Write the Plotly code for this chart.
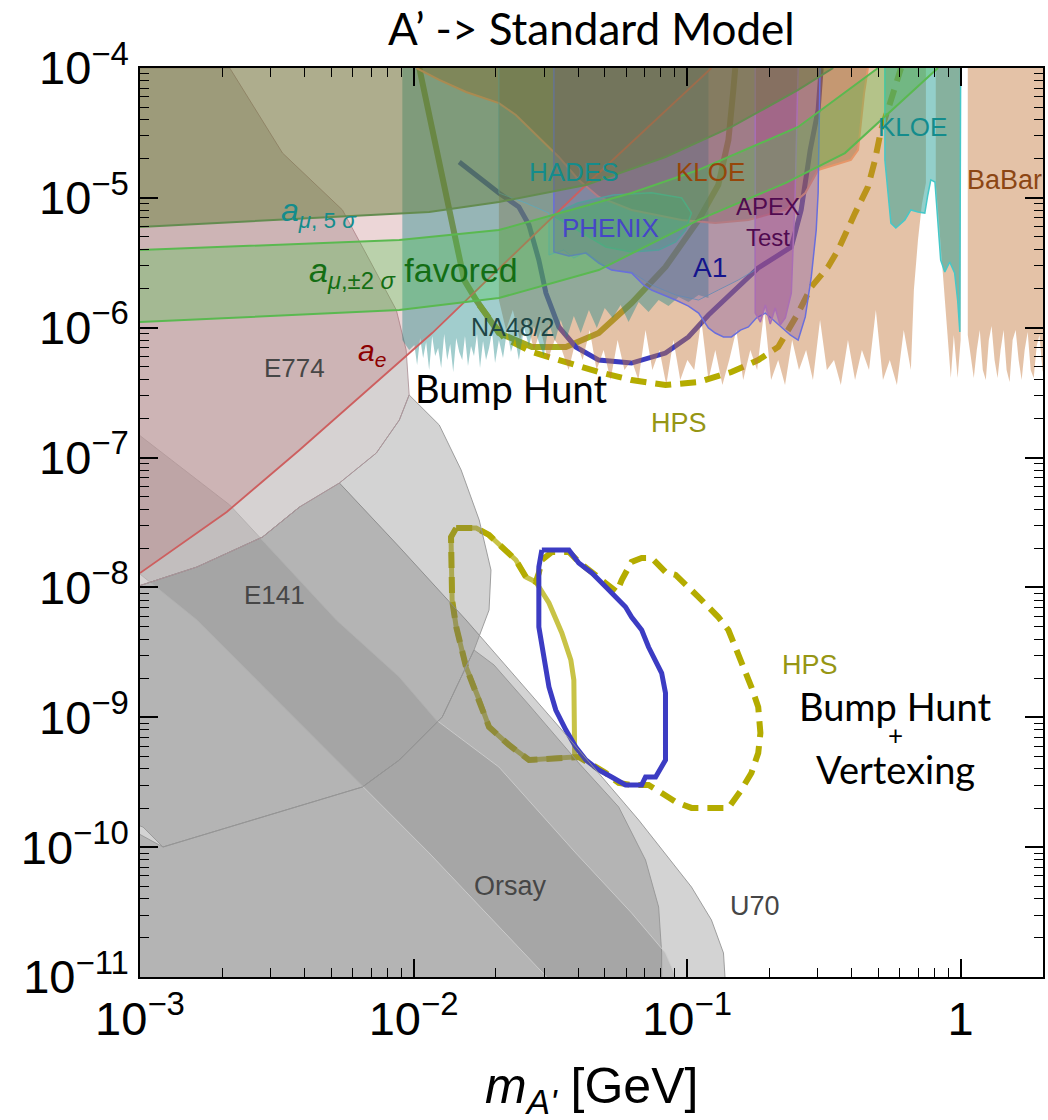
import numpy as np
import plotly.graph_objects as go

# ---------------- data: (log10 m[GeV], log10 epsilon) ----------------
E774 = [(-3.05,-4.000),(-2.672,-4.000),(-2.479,-4.655),(-2.260,-5.093),(-2.161,-5.479),(-2.063,-5.864),
        (-2.027,-6.172),(-2.016,-6.518),(-2.052,-6.711),(-2.136,-6.965),(-2.271,-7.196),(-2.417,-7.381),
        (-2.552,-7.612),(-2.792,-7.843),(-3.05,-8.020)]
E137 = [(-3.05,-8.020),(-2.792,-7.843),(-2.552,-7.612),(-2.417,-7.381),(-2.271,-7.196),(-2.136,-6.965),
        (-2.052,-6.711),(-2.016,-6.518),(-1.906,-6.749),(-1.826,-7.096),(-1.760,-7.481),(-1.717,-7.866),
        (-1.724,-8.174),(-1.779,-8.482),(-1.895,-8.998),(-2.052,-9.329),(-2.187,-9.537),(-2.552,-9.768),
        (-2.916,-9.999),(-2.989,-9.845),(-3.05,-9.80)]
U70 = [(-2.271,-7.196),(-2.052,-7.689),(-1.808,-8.251),(-1.458,-9.098),(-1.177,-9.791),(-0.984,-10.307),
       (-0.911,-10.561),(-0.867,-10.815),(-0.860,-11.05),(-3.05,-11.05),(-3.05,-8.020),(-2.792,-7.843),
       (-2.552,-7.612),(-2.417,-7.381)]
E141 = [(-3.05,-9.845),(-2.916,-9.999),(-2.552,-9.768),(-2.187,-9.537),(-2.052,-9.329),(-1.895,-8.998),
        (-1.779,-8.482),(-1.706,-8.597),(-1.578,-8.905),(-1.483,-9.136),(-1.396,-9.352),(-1.250,-9.691),
        (-1.152,-10.099),(-1.104,-10.461),(-1.093,-10.815),(-1.093,-11.05),(-3.05,-11.05)]
ORSAY = [(-3.05,-6.750),(-2.672,-7.365),(-2.282,-8.251),(-2.052,-8.690),(-1.917,-9.021),(-1.688,-9.383),
         (-1.407,-10.045),(-1.203,-10.507),(-1.079,-10.815),(-1.031,-11.05),(-1.491,-11.05),(-1.943,-10.045),
         (-2.792,-8.251),(-3.05,-7.812)]
AE_LINE = [(-3.0,-7.889),(-2.683,-7.419),(-2.417,-6.942),(-1.932,-6.041),(-1.370,-4.901),(-0.911,-4.000)]
AMU5_LINE = [(-3.0,-5.224),(-1.943,-5.109),(-1.688,-5.032),(-1.370,-4.901),(-1.079,-4.685),(-0.838,-4.454),
             (-0.594,-4.169),(-0.466,-4.000)]
AMU2_UP = [(-3.0,-5.402),(-2.052,-5.325),(-1.688,-5.248),(-1.494,-5.132),(-1.203,-4.963),(-0.958,-4.785),
           (-0.594,-4.454),(-0.302,-4.000)]
AMU2_LO = [(-3.0,-5.956),(-2.052,-5.864),(-1.688,-5.771),(-1.323,-5.556),(-0.958,-5.170),(-0.641,-4.886),
           (-0.423,-4.655),(-0.083,-4.000)]
KLOE_BROWN = [(-1.990,-4.000),(-1.906,-4.092),(-1.808,-4.185),(-1.688,-4.270),(-1.626,-4.362),(-1.542,-4.531),
              (-1.469,-4.685),(-1.396,-4.862),(-1.323,-4.993),(-1.203,-5.093),(-1.020,-5.170),(-0.897,-5.194),
              (-0.776,-5.170),(-0.641,-5.093),(-0.568,-4.963),(-0.521,-4.785),(-0.401,-4.708),(-0.375,-4.631),
              (-0.364,-4.400),(-0.353,-4.193),(-0.339,-4.000)]
NA48 = [(-2.041,-4.000),(-2.041,-6.095),(-2.016,-6.172),(-1.997,-6.133),(-1.987,-6.287),(-1.976,-6.079),
        (-1.965,-6.233),(-1.954,-6.110),(-1.943,-6.326),(-1.932,-6.064),(-1.921,-6.218),(-1.910,-6.156),
        (-1.899,-6.310),(-1.888,-6.048),(-1.877,-6.249),(-1.866,-6.125),(-1.855,-6.341),(-1.844,-6.079),
        (-1.833,-6.187),(-1.822,-6.249),(-1.812,-6.064),(-1.801,-6.295),(-1.790,-6.141),(-1.779,-6.218),
        (-1.768,-6.048),(-1.757,-6.310),(-1.746,-6.102),(-1.735,-6.249),(-1.724,-6.156),(-1.713,-6.033),
        (-1.702,-6.272),(-1.688,-6.095),(-1.673,-6.233),(-1.658,-6.018),(-1.644,-6.187),(-1.629,-6.079),
        (-1.615,-6.249),(-1.596,-6.002),(-1.578,-6.141),(-1.560,-5.987),(-1.542,-6.110),(-1.524,-6.218),
        (-1.505,-5.971),(-1.483,-6.102),(-1.462,-5.941),(-1.440,-6.079),(-1.414,-5.910),(-1.389,-6.041),
        (-1.359,-5.864),(-1.330,-6.002),(-1.301,-5.848),(-1.272,-5.925),(-1.243,-5.825),(-1.214,-5.956),
        (-1.177,-5.802),(-1.141,-5.879),(-1.104,-5.787),(-1.068,-5.833),(-1.031,-5.764),(-0.995,-5.802),
        (-0.958,-5.748),(-0.922,-5.771),(-0.922,-4.000)]
BABAR_A = [(-1.688,-4.000),(-1.688,-5.787),(-1.662,-6.018),(-1.637,-5.864),(-1.611,-6.095),(-1.586,-5.941),
           (-1.560,-6.172),(-1.535,-6.018),(-1.509,-6.249),(-1.484,-6.095),(-1.458,-6.172),(-1.433,-6.326),
           (-1.407,-6.095),(-1.382,-6.249),(-1.356,-6.018),(-1.331,-6.326),(-1.305,-6.172),(-1.280,-6.403),
           (-1.254,-6.095),(-1.229,-6.326),(-1.203,-6.249),(-1.178,-6.403),(-1.152,-6.018),(-1.127,-6.326),
           (-1.101,-6.172),(-1.076,-6.441),(-1.050,-6.095),(-1.025,-6.403),(-0.999,-6.249),(-0.974,-6.326),
           (-0.948,-5.941),(-0.922,-6.403),(-0.897,-6.172),(-0.871,-6.441),(-0.846,-6.249),(-0.820,-6.018),
           (-0.795,-6.403),(-0.769,-6.172),(-0.744,-6.326),(-0.718,-5.864),(-0.693,-6.403),(-0.667,-6.249),
           (-0.642,-6.441),(-0.616,-6.095),(-0.591,-6.326),(-0.565,-6.172),(-0.540,-6.403),(-0.514,-5.941),
           (-0.489,-6.326),(-0.463,-6.249),(-0.438,-6.441),(-0.412,-6.095),(-0.386,-6.403),(-0.361,-6.172),
           (-0.335,-6.326),(-0.310,-5.864),(-0.284,-6.403),(-0.259,-6.249),(-0.233,-6.441),(-0.208,-6.018),
           (-0.182,-6.326),(-0.171,-5.710),(-0.156,-5.325),(-0.142,-5.055),(-0.127,-4.886),(-0.127,-4.000)]
BABAR_B = [(-0.091,-4.000),(-0.091,-4.886),(-0.080,-5.170),(-0.069,-5.494),(-0.058,-5.787),(-0.047,-6.095),
           (-0.036,-6.387),(-0.025,-6.056),(-0.011,-6.387),(0.000,-6.095),(0.000,-4.000)]
BABAR_C = [(0.026,-4.000),(0.026,-6.056),(0.048,-6.387),(0.059,-6.172),(0.070,-6.018),(0.081,-6.326),
           (0.092,-6.403),(0.103,-6.095),(0.113,-5.987),(0.124,-6.249),(0.135,-6.387),(0.146,-6.172),
           (0.157,-6.018),(0.168,-6.326),(0.179,-6.418),(0.190,-6.095),(0.201,-6.018),(0.212,-6.249),
           (0.223,-6.403),(0.234,-6.172),(0.245,-6.033),(0.256,-6.326),(0.267,-6.387),(0.278,-6.141),
           (0.288,-6.056),(0.299,-6.326),(0.310,-6.400),(0.310,-4.000)]
A1 = [(-1.487,-4.000),(-1.487,-5.417),(-1.432,-5.448),(-1.370,-5.425),(-1.323,-5.502),(-1.276,-5.556),
      (-1.203,-5.579),(-1.159,-5.671),(-1.130,-5.710),(-1.086,-5.748),(-1.042,-5.787),(-0.995,-5.833),
      (-0.958,-5.887),(-0.922,-6.002),(-0.897,-6.041),(-0.867,-6.071),(-0.838,-6.071),(-0.805,-6.018),
      (-0.776,-5.994),(-0.747,-5.925),(-0.714,-5.887),(-0.685,-5.941),(-0.656,-5.994),(-0.623,-6.056),
      (-0.594,-6.095),(-0.568,-5.917),(-0.546,-5.609),(-0.528,-5.248),(-0.521,-4.963),(-0.514,-4.000)]
APEX = [(-0.751,-4.000),(-0.751,-5.887),(-0.732,-5.956),(-0.714,-5.825),(-0.696,-5.971),(-0.678,-5.848),
        (-0.660,-5.979),(-0.641,-5.925),(-0.619,-5.733),(-0.605,-4.963),(-0.594,-4.000)]
HADES = [(-1.688,-4.000),(-1.688,-4.963),(-1.589,-5.040),(-1.505,-5.117),(-1.505,-5.440),(-1.451,-5.402),
         (-1.414,-5.463),(-1.370,-5.417),(-1.323,-5.494),(-1.276,-5.556),(-1.203,-5.571),(-1.130,-5.671),
         (-1.042,-5.748),(-0.958,-5.787),(-0.886,-5.710),(-0.813,-5.633),(-0.751,-5.556),(-0.751,-4.000)]
PHENIX = [(-1.494,-5.132),(-1.385,-5.271),(-1.297,-5.378),(-1.203,-5.417),(-1.104,-5.402),(-1.042,-5.340),
          (-1.006,-5.248),(-0.984,-5.117),(-1.020,-5.000),(-1.130,-4.960),(-1.270,-4.978),(-1.400,-5.040),
          (-1.494,-5.132)]
KLOE_TEAL = [(-0.277,-4.000),(-0.277,-4.708),(-0.255,-5.194),(-0.237,-5.232),(-0.204,-5.170),(-0.182,-5.093),
             (-0.156,-5.109),(-0.131,-5.117),(-0.120,-4.978),(-0.109,-4.862),(-0.094,-4.878),(-0.083,-5.170),
             (-0.073,-5.479),(-0.058,-5.571),(-0.040,-5.494),(-0.022,-5.579),(-0.011,-5.787),(-0.003,-6.033),
             (0.000,-4.000)]
HPS_SOLID_UP = [(-1.979,-4.0),(-1.932,-4.454),(-1.881,-4.963),(-1.844,-5.348),(-1.815,-5.633),(-1.771,-5.787),
                (-1.688,-6.041),(-1.567,-6.148),(-1.443,-6.148),(-1.323,-6.041),(-1.203,-5.810),(-1.079,-5.532),
                (-0.958,-5.170),(-0.886,-4.901),(-0.849,-4.554),(-0.831,-4.169),(-0.824,-4.0)]
HPS_DASH_UP = [(-1.760,-5.825),(-1.669,-6.079),(-1.567,-6.187),(-1.443,-6.264),(-1.323,-6.341),(-1.203,-6.403),
               (-1.079,-6.441),(-0.958,-6.418),(-0.838,-6.341),(-0.740,-6.249),(-0.667,-6.148),(-0.594,-5.887),
               (-0.546,-5.686),(-0.485,-5.532),(-0.448,-5.402),(-0.386,-5.117),(-0.339,-4.916),(-0.313,-4.708),
               (-0.291,-4.477),(-0.266,-4.323),(-0.240,-4.146),(-0.218,-4.0)]
BLUE_UP = [(-1.833,-4.724),(-1.688,-4.963),(-1.615,-5.070),(-1.578,-5.209),(-1.542,-5.479),(-1.516,-5.733),
           (-1.469,-5.994),(-1.407,-6.148),(-1.323,-6.249),(-1.203,-6.272),(-1.079,-6.195),(-0.995,-6.071),
           (-0.922,-5.902),(-0.824,-5.710),(-0.740,-5.540),(-0.619,-5.378),(-0.583,-5.093),(-0.550,-4.631),
           (-0.521,-4.323),(-0.510,-4.0)]
HPS_SOLID_LO = [(-1.844,-7.542),(-1.771,-7.542),(-1.724,-7.596),(-1.662,-7.712),(-1.626,-7.789),(-1.589,-7.920),
                (-1.553,-7.958),(-1.505,-8.120),(-1.458,-8.351),(-1.425,-8.559),(-1.414,-8.713),(-1.411,-9.306),
                (-1.578,-9.329),(-1.651,-9.213),(-1.724,-9.075),(-1.760,-8.867),(-1.808,-8.613),(-1.844,-8.305),
                (-1.859,-8.097),(-1.863,-7.612),(-1.844,-7.542)]
HPS_DASH_LO = [(-1.844,-7.542),(-1.771,-7.542),(-1.724,-7.596),(-1.662,-7.712),(-1.626,-7.789),(-1.589,-7.920),
               (-1.553,-7.958),(-1.542,-7.889),(-1.531,-7.789),(-1.494,-7.727),(-1.432,-7.727),(-1.396,-7.804),
               (-1.348,-7.881),(-1.297,-7.966),(-1.257,-8.035),(-1.239,-7.943),(-1.203,-7.804),(-1.166,-7.773),
               (-1.130,-7.773),(-1.079,-7.881),(-1.042,-7.904),(-0.958,-8.074),(-0.886,-8.228),(-0.849,-8.328),
               (-0.802,-8.559),(-0.765,-8.767),(-0.740,-8.921),(-0.732,-9.121),(-0.740,-9.275),(-0.765,-9.429),
               (-0.802,-9.560),(-0.849,-9.698),(-0.984,-9.698),(-1.042,-9.652),(-1.093,-9.583),(-1.141,-9.521),
               (-1.203,-9.521),(-1.250,-9.506),(-1.297,-9.429),(-1.334,-9.383),(-1.370,-9.344),(-1.396,-9.306),
               (-1.578,-9.329),(-1.651,-9.213),(-1.724,-9.075),(-1.760,-8.867),(-1.808,-8.613),(-1.844,-8.305),
               (-1.859,-8.097),(-1.863,-7.612),(-1.844,-7.542)]
BLUE_LO = [(-1.531,-7.712),(-1.494,-7.712),(-1.432,-7.712),(-1.396,-7.812),(-1.348,-7.889),(-1.297,-7.997),
           (-1.250,-8.097),(-1.225,-8.151),(-1.203,-8.228),(-1.166,-8.328),(-1.141,-8.459),(-1.115,-8.559),
           (-1.093,-8.659),(-1.079,-8.813),(-1.079,-9.329),(-1.115,-9.460),(-1.152,-9.460),(-1.166,-9.521),
           (-1.225,-9.521),(-1.276,-9.460),(-1.323,-9.406),(-1.370,-9.329),(-1.407,-9.229),(-1.443,-9.098),
           (-1.480,-8.944),(-1.505,-8.767),(-1.516,-8.613),(-1.531,-8.428),(-1.542,-8.305),(-1.542,-7.997),
           (-1.542,-7.843),(-1.531,-7.712)]

X_TICKS = [1e-3, 1e-2, 1e-1, 1]
X_TICKTEXT = ["10<sup>\u22123</sup>", "10<sup>\u22122</sup>", "10<sup>\u22121</sup>", "1"]
Y_TICKS = [1e-11, 1e-10, 1e-9, 1e-8, 1e-7, 1e-6, 1e-5, 1e-4]
Y_TICKTEXT = ["10<sup>\u2212%d</sup>" % k for k in (11, 10, 9, 8, 7, 6, 5, 4)]

# ---------------- figure ----------------
fig = go.Figure()

def xy(pts):
    a = np.array(pts, dtype=float)
    return 10 ** a[:, 0], 10 ** a[:, 1]

def region(pts, fill, lc, lw=1.0):
    x, y = xy(pts)
    fig.add_trace(go.Scatter(x=x, y=y, mode="lines", fill="toself", fillcolor=fill,
                             line=dict(color=lc, width=lw), hoverinfo="skip", showlegend=False))

def curve(pts, color, width, dash="solid"):
    x, y = xy(pts)
    fig.add_trace(go.Scatter(x=x, y=y, mode="lines", line=dict(color=color, width=width, dash=dash),
                             hoverinfo="skip", showlegend=False))

NONE = "rgba(0,0,0,0)"
# projection curves (drawn underneath the exclusion regions)
curve(HPS_SOLID_UP, "rgb(165,170,30)", 6)
curve(HPS_DASH_UP, "rgb(180,172,0)", 6, "16px,9px")
curve(BLUE_UP, "rgb(60,60,190)", 5)
curve(HPS_SOLID_LO, "rgb(200,195,70)", 5)
curve(HPS_DASH_LO, "rgb(180,172,0)", 6, "16px,9px")
curve(BLUE_LO, "rgb(60,60,195)", 5)

# grey beam-dump regions
g3 = "rgba(110,110,110,0.30)"
gl = "rgba(150,150,150,0.9)"
region(U70, g3, gl)
region(E141, g3, gl)
region(ORSAY, "rgba(110,110,110,0.20)", "rgba(205,205,205,0.9)")
region(E137, g3, gl)
region(E774, "rgba(120,105,105,0.30)", "rgba(175,150,155,0.9)")

# a_e
region(AE_LINE + [(-3.0, -4.0)], "rgba(180,90,95,0.25)", NONE, 0)
# experiments
region(BABAR_A, "rgba(195,120,60,0.45)", NONE, 0)
region(BABAR_B, "rgba(195,120,60,0.45)", NONE, 0)
region(BABAR_C, "rgba(195,120,60,0.45)", NONE, 0)
region(NA48, "rgba(30,135,135,0.42)", NONE, 0)
region(KLOE_BROWN, "rgba(150,90,35,0.40)", "rgb(230,150,105)", 2)
region(HADES, "rgba(70,140,190,0.12)", "rgba(90,170,190,0.8)", 1)
region(PHENIX, "rgba(40,200,120,0.35)", "rgb(70,200,150)", 1.5)
region(A1, "rgba(115,70,165,0.32)", "rgb(105,110,220)", 1.5)
region(APEX, "rgba(150,60,150,0.35)", "rgb(170,110,180)", 1.5)
region(KLOE_TEAL, "rgba(40,160,150,0.5)", "rgb(70,200,200)", 1.5)
curve(AE_LINE, "rgb(205,95,95)", 1.8)
# muon g-2
region(AMU5_LINE + [(-0.466, -4.0), (-3.0, -4.0)], "rgba(100,125,50,0.45)", NONE, 0)
region(AMU2_UP + AMU2_LO[::-1], "rgba(70,200,70,0.30)", NONE, 0)
curve(AMU5_LINE, "rgb(100,140,80)", 2)
curve(AMU2_UP, "rgb(90,185,80)", 2)
curve(AMU2_LO, "rgb(90,185,80)", 2)

# ---------------- labels ----------------
def label(text, lx, ly, color, size, family="Liberation Sans"):
    fig.add_annotation(x=lx, y=ly, xref="x", yref="y", text=text, showarrow=False,
                       xanchor="center", yanchor="middle",
                       font=dict(family=family, size=size, color=color))

label("HADES", -1.414, -4.801, "rgb(20,140,140)", 26)
label("KLOE", -0.915, -4.801, "rgb(150,70,10)", 26)
label("PHENIX", -1.279, -5.232, "rgb(70,70,200)", 26)
label("APEX<br>Test", -0.703, -5.186, "rgb(80,10,80)", 24)
label("A1", -0.918, -5.540, "rgb(20,20,140)", 28)
label("NA48/2", -1.640, -5.994, "rgb(30,70,70)", 25)
label("KLOE", -0.175, -4.454, "rgb(20,140,140)", 26)
label("BaBar", 0.162, -4.862, "rgb(140,70,20)", 27)
label("HPS", -1.031, -6.734, "rgb(150,150,20)", 27)
label("HPS", -0.550, -8.597, "rgb(150,150,20)", 27)
label("E774", -2.435, -6.310, "rgb(70,70,70)", 26)
label("E141", -2.508, -8.058, "rgb(70,70,70)", 26)
label("Orsay", -1.647, -10.299, "rgb(70,70,70)", 27)
label("U70", -0.751, -10.453, "rgb(70,70,70)", 27)
label("<i>a</i><sub><i>e</i></sub>", -2.151, -6.187, "rgb(140,0,0)", 30)
label("<i>a</i><sub><i>\u03bc</i>, 5 <i>\u03c3</i></sub>", -2.344, -5.109, "rgb(20,140,140)", 32)
label("<i>a</i><sub><i>\u03bc</i>,\u00b12 <i>\u03c3</i></sub> favored", -2.000, -5.571, "rgb(20,110,20)", 34)
label("Bump Hunt", -1.644, -6.464, "black", 38, "Lato")
label("Bump Hunt", -0.240, -8.915, "black", 38, "Lato")
label("+", -0.240, -9.140, "black", 26, "Lato")
label("Vertexing", -0.240, -9.395, "black", 38, "Lato")

fig.add_annotation(x=0.5, y=1.044, xref="paper", yref="paper", text="A\u2019 -> Standard Model",
                   showarrow=False, xanchor="center", yanchor="middle",
                   font=dict(family="Lato", size=44, color="black"))
fig.add_annotation(x=0.5, y=-0.124, xref="paper", yref="paper", text="<i>m</i><sub><i>A'</i></sub> [GeV]",
                   showarrow=False, xanchor="center", yanchor="middle",
                   font=dict(family="Liberation Sans", size=50, color="black"))

x_minor = [k * 10.0 ** n for n in (-3, -2, -1, 0) for k in range(2, 10) if k * 10.0 ** n <= 2]
y_minor = [k * 10.0 ** n for n in range(-11, -4) for k in range(2, 10)]

axis_common = dict(type="log", showgrid=False, zeroline=False, showline=True, linecolor="black",
                   linewidth=1.5, mirror="allticks", ticks="inside", ticklen=18, tickwidth=1.5,
                   tickcolor="black", tickfont=dict(family="Liberation Sans", size=47, color="black"))
fig.update_xaxes(range=[-3, np.log10(2.0)], tickvals=X_TICKS, ticktext=X_TICKTEXT,
                 minor=dict(tickvals=x_minor, ticks="inside", ticklen=9, tickwidth=1, tickcolor="black"),
                 **axis_common)
fig.update_yaxes(range=[-11, -4], tickvals=Y_TICKS, ticktext=Y_TICKTEXT,
                 minor=dict(tickvals=y_minor, ticks="inside", ticklen=9, tickwidth=1, tickcolor="black"),
                 **axis_common)
fig.update_layout(width=1048, height=1120, margin=dict(l=140, r=3, t=68, b=143),
                  plot_bgcolor="white", paper_bgcolor="white", showlegend=False)

fig.write_html("out.html")
